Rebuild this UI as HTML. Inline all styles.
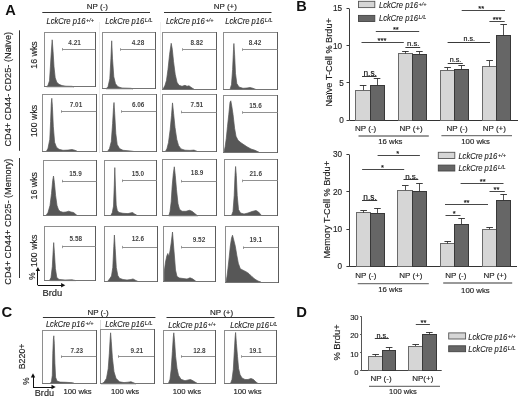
<!DOCTYPE html>
<html><head><meta charset="utf-8"><style>
html,body{margin:0;padding:0;background:#fff;width:520px;height:397px;overflow:hidden}
svg{display:block;font-family:"Liberation Sans", sans-serif;filter:blur(0.4px)}
</style></head><body>
<svg width="520" height="397" viewBox="0 0 520 397">
<rect width="520" height="397" fill="#fff"/>
<text x="5.2" y="15.4" font-size="14.6" text-anchor="start" fill="#111" font-weight="bold">A</text>
<text x="97.4" y="9.4" font-size="8" text-anchor="middle" fill="#1e1e1e" stroke="#1e1e1e" stroke-width="0.15" >NP (-)</text>
<line x1="42.3" y1="12.5" x2="150" y2="12.5" stroke="#333" stroke-width="1.1"/>
<text x="225.3" y="9.4" font-size="8" text-anchor="middle" fill="#1e1e1e" stroke="#1e1e1e" stroke-width="0.15" >NP (+)</text>
<line x1="164" y1="12.5" x2="271.5" y2="12.5" stroke="#333" stroke-width="1.1"/>
<text x="46.5" y="24.2" font-size="8.2" font-style="italic" fill="#1e1e1e" stroke="#1e1e1e" stroke-width="0.12"><tspan textLength="38.9" lengthAdjust="spacingAndGlyphs">LckCre p16</tspan><tspan font-size="5.6" dx="0.6" dy="-2.1">+/+</tspan></text>
<text x="105.3" y="24.2" font-size="8.2" font-style="italic" fill="#1e1e1e" stroke="#1e1e1e" stroke-width="0.12"><tspan textLength="38.9" lengthAdjust="spacingAndGlyphs">LckCre p16</tspan><tspan font-size="5.6" dx="0.6" dy="-2.1">L/L</tspan></text>
<text x="165.9" y="24.2" font-size="8.2" font-style="italic" fill="#1e1e1e" stroke="#1e1e1e" stroke-width="0.12"><tspan textLength="38.9" lengthAdjust="spacingAndGlyphs">LckCre p16</tspan><tspan font-size="5.6" dx="0.6" dy="-2.1">+/+</tspan></text>
<text x="225.3" y="24.2" font-size="8.2" font-style="italic" fill="#1e1e1e" stroke="#1e1e1e" stroke-width="0.12"><tspan textLength="38.9" lengthAdjust="spacingAndGlyphs">LckCre p16</tspan><tspan font-size="5.6" dx="0.6" dy="-2.1">L/L</tspan></text>
<line x1="99.5" y1="22" x2="99.5" y2="153" stroke="#e9e9e9" stroke-width="0.8"/>
<line x1="160.5" y1="22" x2="160.5" y2="150" stroke="#ebebeb" stroke-width="0.8"/>
<polygon points="46.5,86.8 48,85.3 49.5,80.8 50.4,66.8 51.3,51.8 52.2,39.8 53.1,51.8 54,66.8 55.2,77.8 56.8,82.3 59,84.3 62,85.6 66,86.2 72,86.3 74,86.8" fill="#575757" stroke="#575757" stroke-width="0.7" stroke-linejoin="round"/>
<path d="M44 32.5H96" stroke="#8e8e8e" stroke-width="1" fill="none"/>
<path d="M44.5 32.5V86.5" stroke="#8e8e8e" stroke-width="1" fill="none"/>
<path d="M44 86.5H96" stroke="#747474" stroke-width="1" fill="none"/>
<path d="M95.5 32V87" stroke="#5c5c5c" stroke-width="1" fill="none"/>
<text x="74.6" y="44.8" font-size="6.4" text-anchor="middle" fill="#444" font-weight="bold">4.21</text>
<line x1="62.2" y1="49.5" x2="95.6" y2="49.5" stroke="#858585" stroke-width="0.9"/>
<line x1="62.5" y1="48" x2="62.5" y2="50.6" stroke="#858585" stroke-width="0.8"/>
<polygon points="106,88.8 108,86.8 109.8,78.8 110.9,58.8 111.7,40.8 112.5,58.8 113.8,76.8 115.5,83.8 118,86.8 122,88 131,88.3 133,88.8" fill="#575757" stroke="#575757" stroke-width="0.7" stroke-linejoin="round"/>
<path d="M102 32.5H156" stroke="#8e8e8e" stroke-width="1" fill="none"/>
<path d="M102.5 32.5V88.5" stroke="#8e8e8e" stroke-width="1" fill="none"/>
<path d="M102 88.5H156" stroke="#747474" stroke-width="1" fill="none"/>
<path d="M155.5 32V89" stroke="#5c5c5c" stroke-width="1" fill="none"/>
<text x="138" y="44.9" font-size="6.4" text-anchor="middle" fill="#444" font-weight="bold">4.28</text>
<line x1="120.5" y1="49.5" x2="155.7" y2="49.5" stroke="#858585" stroke-width="0.9"/>
<line x1="120.5" y1="48.2" x2="120.5" y2="50.8" stroke="#858585" stroke-width="0.8"/>
<polygon points="163,89.3 165,85.3 166.5,80.3 168,69.3 169.6,54.3 171.2,43.3 172.3,49.3 173.5,61.3 175.2,74.3 177,82.3 179,85.3 182,86.3 185,85.3 187,86.3 189,85.8 191,87.3 194,89.3" fill="#575757" stroke="#575757" stroke-width="0.7" stroke-linejoin="round"/>
<path d="M162 32.5H217" stroke="#8e8e8e" stroke-width="1" fill="none"/>
<path d="M162.5 32.5V89.5" stroke="#8e8e8e" stroke-width="1" fill="none"/>
<path d="M162 89.5H217" stroke="#747474" stroke-width="1" fill="none"/>
<path d="M216.5 32V90" stroke="#5c5c5c" stroke-width="1" fill="none"/>
<text x="196.8" y="44.8" font-size="6.4" text-anchor="middle" fill="#444" font-weight="bold">8.82</text>
<line x1="182.7" y1="49.5" x2="216.5" y2="49.5" stroke="#858585" stroke-width="0.9"/>
<line x1="182.5" y1="48.2" x2="182.5" y2="50.8" stroke="#858585" stroke-width="0.8"/>
<polygon points="230,89.5 231.5,84.5 232.6,69.5 233.5,49.5 233.9,43.5 234.6,54.5 235.5,73.5 236.8,83.5 239,87 243,88.3 247,88 250,87.5 253,88.3 256,89.5" fill="#575757" stroke="#575757" stroke-width="0.7" stroke-linejoin="round"/>
<path d="M223 32.5H278" stroke="#8e8e8e" stroke-width="1" fill="none"/>
<path d="M223.5 32.5V89.5" stroke="#8e8e8e" stroke-width="1" fill="none"/>
<path d="M223 89.5H278" stroke="#747474" stroke-width="1" fill="none"/>
<path d="M277.5 32V90" stroke="#5c5c5c" stroke-width="1" fill="none"/>
<text x="255" y="44.9" font-size="6.4" text-anchor="middle" fill="#444" font-weight="bold">8.42</text>
<line x1="242.5" y1="49.5" x2="277.8" y2="49.5" stroke="#858585" stroke-width="0.9"/>
<line x1="242.5" y1="48.3" x2="242.5" y2="50.9" stroke="#858585" stroke-width="0.8"/>
<polygon points="46.5,151.3 48,148.3 49.8,139.3 50.6,121.3 51.3,103.3 51.8,98.3 52.4,106.3 53.3,126.3 54.6,142.3 56.5,147.3 59,149.3 63,150.3 68,150.1 72,149.5 75,150.3 77,151.3" fill="#575757" stroke="#575757" stroke-width="0.7" stroke-linejoin="round"/>
<path d="M42 94.5H97" stroke="#8e8e8e" stroke-width="1" fill="none"/>
<path d="M42.5 94.5V151.5" stroke="#8e8e8e" stroke-width="1" fill="none"/>
<path d="M42 151.5H97" stroke="#747474" stroke-width="1" fill="none"/>
<path d="M96.5 94V152" stroke="#5c5c5c" stroke-width="1" fill="none"/>
<text x="76" y="106.8" font-size="6.4" text-anchor="middle" fill="#444" font-weight="bold">7.01</text>
<line x1="61.2" y1="111.5" x2="96.3" y2="111.5" stroke="#858585" stroke-width="0.9"/>
<line x1="61.5" y1="110.2" x2="61.5" y2="112.8" stroke="#858585" stroke-width="0.8"/>
<polygon points="107.5,151.5 109.5,148.5 111.3,141.5 112.6,123.5 113.5,107.5 114,102.5 114.7,113.5 115.8,133.5 117.2,144.5 119.5,148.5 123,150.3 130,150.9 134,151.5" fill="#575757" stroke="#575757" stroke-width="0.7" stroke-linejoin="round"/>
<path d="M102 94.5H157" stroke="#8e8e8e" stroke-width="1" fill="none"/>
<path d="M102.5 94.5V151.5" stroke="#8e8e8e" stroke-width="1" fill="none"/>
<path d="M102 151.5H157" stroke="#747474" stroke-width="1" fill="none"/>
<path d="M156.5 94V152" stroke="#5c5c5c" stroke-width="1" fill="none"/>
<text x="138.2" y="106.8" font-size="6.4" text-anchor="middle" fill="#444" font-weight="bold">6.06</text>
<line x1="121.5" y1="111.5" x2="156.3" y2="111.5" stroke="#858585" stroke-width="0.9"/>
<line x1="121.5" y1="110.2" x2="121.5" y2="112.8" stroke="#858585" stroke-width="0.8"/>
<polygon points="165.5,151.4 167,148.4 168.5,142.4 170.2,129.4 171.5,115.4 172.5,102.9 173.6,113.4 175,127.4 176.8,139.4 178.5,145.4 181,148.9 185,150.2 190,150.4 194,150.1 197,151.4" fill="#575757" stroke="#575757" stroke-width="0.7" stroke-linejoin="round"/>
<path d="M162 94.5H217" stroke="#8e8e8e" stroke-width="1" fill="none"/>
<path d="M162.5 94.5V151.5" stroke="#8e8e8e" stroke-width="1" fill="none"/>
<path d="M162 151.5H217" stroke="#747474" stroke-width="1" fill="none"/>
<path d="M216.5 94V152" stroke="#5c5c5c" stroke-width="1" fill="none"/>
<text x="196.8" y="106.8" font-size="6.4" text-anchor="middle" fill="#444" font-weight="bold">7.51</text>
<line x1="181.3" y1="112.5" x2="216.5" y2="112.5" stroke="#858585" stroke-width="0.9"/>
<line x1="181.5" y1="110.7" x2="181.5" y2="113.3" stroke="#858585" stroke-width="0.8"/>
<polygon points="224,152.3 225.2,146.3 226.3,138.3 227.5,126.3 228.8,114.3 230,102.3 230.8,100.8 231.8,106.3 233,114.3 234.6,128.3 236,136.3 238,140.3 241,142.8 244,144.8 247,146.8 251,149 255,150.3 259,152.3" fill="#575757" stroke="#575757" stroke-width="0.7" stroke-linejoin="round"/>
<path d="M223 95.5H278" stroke="#8e8e8e" stroke-width="1" fill="none"/>
<path d="M223.5 95.5V152.5" stroke="#8e8e8e" stroke-width="1" fill="none"/>
<path d="M223 152.5H278" stroke="#747474" stroke-width="1" fill="none"/>
<path d="M277.5 95V153" stroke="#5c5c5c" stroke-width="1" fill="none"/>
<text x="255.5" y="107.6" font-size="6.4" text-anchor="middle" fill="#444" font-weight="bold">15.6</text>
<line x1="242.6" y1="112.5" x2="277.8" y2="112.5" stroke="#858585" stroke-width="0.9"/>
<line x1="242.5" y1="111.2" x2="242.5" y2="113.8" stroke="#858585" stroke-width="0.8"/>
<polygon points="46,215.5 48,212.5 50,205.5 51.5,193.5 52.7,180.5 53.5,176 54.4,182.5 55.6,195.5 57,205.5 58.6,210 60.5,211.5 63,212.3 66,212 68.8,211.2 71,212 73.5,212.5 75.5,214 77,215.5" fill="#575757" stroke="#575757" stroke-width="0.7" stroke-linejoin="round"/>
<path d="M43 160.5H97" stroke="#8e8e8e" stroke-width="1" fill="none"/>
<path d="M43.5 160.5V215.5" stroke="#8e8e8e" stroke-width="1" fill="none"/>
<path d="M43 215.5H97" stroke="#747474" stroke-width="1" fill="none"/>
<path d="M96.5 160V216" stroke="#5c5c5c" stroke-width="1" fill="none"/>
<text x="75.5" y="175.5" font-size="6.4" text-anchor="middle" fill="#444" font-weight="bold">15.9</text>
<line x1="62" y1="181.5" x2="96.6" y2="181.5" stroke="#858585" stroke-width="0.9"/>
<line x1="62.5" y1="179.8" x2="62.5" y2="182.4" stroke="#858585" stroke-width="0.8"/>
<polygon points="111,215.1 112.3,212.6 113.5,206.1 114.3,185.1 114.8,167.6 115.4,185.1 116.2,205.1 117.3,210.6 119,212.5 123,213.3 128,213.6 132.5,212.5 134.5,213.9 136.5,215.1" fill="#575757" stroke="#575757" stroke-width="0.7" stroke-linejoin="round"/>
<path d="M104 160.5H157" stroke="#8e8e8e" stroke-width="1" fill="none"/>
<path d="M104.5 160.5V215.5" stroke="#8e8e8e" stroke-width="1" fill="none"/>
<path d="M104 215.5H157" stroke="#747474" stroke-width="1" fill="none"/>
<path d="M156.5 160V216" stroke="#5c5c5c" stroke-width="1" fill="none"/>
<text x="137.9" y="175.7" font-size="6.4" text-anchor="middle" fill="#444" font-weight="bold">15.0</text>
<line x1="122.3" y1="180.5" x2="156.9" y2="180.5" stroke="#858585" stroke-width="0.9"/>
<line x1="122.5" y1="179.5" x2="122.5" y2="182.1" stroke="#858585" stroke-width="0.8"/>
<polygon points="168.8,215.8 170,211.8 171.2,201.8 172.2,185.8 173.3,173.8 174.3,166.8 175.3,175.8 176.5,189.8 178,203.8 179.5,209.3 182,211.3 186,211.3 189.5,210.3 192,211.3 194.5,213.3 197.5,215.8" fill="#575757" stroke="#575757" stroke-width="0.7" stroke-linejoin="round"/>
<path d="M162 159.5H217" stroke="#8e8e8e" stroke-width="1" fill="none"/>
<path d="M162.5 159.5V215.5" stroke="#8e8e8e" stroke-width="1" fill="none"/>
<path d="M162 215.5H217" stroke="#747474" stroke-width="1" fill="none"/>
<path d="M216.5 159V216" stroke="#5c5c5c" stroke-width="1" fill="none"/>
<text x="197.1" y="175.1" font-size="6.4" text-anchor="middle" fill="#444" font-weight="bold">18.9</text>
<line x1="181.4" y1="181.5" x2="216.5" y2="181.5" stroke="#858585" stroke-width="0.9"/>
<line x1="181.5" y1="179.9" x2="181.5" y2="182.5" stroke="#858585" stroke-width="0.8"/>
<polygon points="231.5,215.5 233,211.5 234.2,195.5 235,175.5 235.6,166.5 236.3,175.5 237.2,195.5 238.5,209.5 240.5,213 244,214 248,213 252,211.5 256,210.5 258.5,212 261.5,215.5" fill="#575757" stroke="#575757" stroke-width="0.7" stroke-linejoin="round"/>
<path d="M224 159.5H278" stroke="#8e8e8e" stroke-width="1" fill="none"/>
<path d="M224.5 159.5V215.5" stroke="#8e8e8e" stroke-width="1" fill="none"/>
<path d="M224 215.5H278" stroke="#747474" stroke-width="1" fill="none"/>
<path d="M277.5 159V216" stroke="#5c5c5c" stroke-width="1" fill="none"/>
<text x="255.8" y="175.5" font-size="6.4" text-anchor="middle" fill="#444" font-weight="bold">21.6</text>
<line x1="242.7" y1="180.5" x2="277.9" y2="180.5" stroke="#858585" stroke-width="0.9"/>
<line x1="242.5" y1="179.6" x2="242.5" y2="182.2" stroke="#858585" stroke-width="0.8"/>
<polygon points="49.5,280.6 51,277.6 52.3,266.6 53.2,250.6 53.7,242.6 54.4,252.6 55.4,268.6 56.8,277.6 59,279.4 65,280 72,279.8 76,280.6" fill="#575757" stroke="#575757" stroke-width="0.7" stroke-linejoin="round"/>
<path d="M44 226.5H96" stroke="#8e8e8e" stroke-width="1" fill="none"/>
<path d="M44.5 226.5V280.5" stroke="#8e8e8e" stroke-width="1" fill="none"/>
<path d="M44 280.5H96" stroke="#747474" stroke-width="1" fill="none"/>
<path d="M95.5 226V281" stroke="#5c5c5c" stroke-width="1" fill="none"/>
<text x="75.8" y="241" font-size="6.4" text-anchor="middle" fill="#444" font-weight="bold">5.58</text>
<line x1="62.3" y1="246.5" x2="95.8" y2="246.5" stroke="#858585" stroke-width="0.9"/>
<line x1="62.5" y1="245.6" x2="62.5" y2="248.2" stroke="#858585" stroke-width="0.8"/>
<polygon points="107.5,281.5 109.5,279 111.5,276 112.8,267.5 113.8,246.5 114.4,235 115.2,248.5 116.3,267.5 117.8,275.5 119.5,278.3 123,279.5 127,280 131,279.5 133,278.9 135.5,280.3 138,281.5" fill="#575757" stroke="#575757" stroke-width="0.7" stroke-linejoin="round"/>
<path d="M104 226.5H158" stroke="#8e8e8e" stroke-width="1" fill="none"/>
<path d="M104.5 226.5V281.5" stroke="#8e8e8e" stroke-width="1" fill="none"/>
<path d="M104 281.5H158" stroke="#747474" stroke-width="1" fill="none"/>
<path d="M157.5 226V282" stroke="#5c5c5c" stroke-width="1" fill="none"/>
<text x="137.9" y="241" font-size="6.4" text-anchor="middle" fill="#444" font-weight="bold">12.6</text>
<line x1="122.7" y1="247.5" x2="157" y2="247.5" stroke="#858585" stroke-width="0.9"/>
<line x1="122.5" y1="245.9" x2="122.5" y2="248.5" stroke="#858585" stroke-width="0.8"/>
<polygon points="164.2,281 164.2,272 165.5,262 166.8,256 167.8,253.5 168.9,256.5 170,251 171.2,243 172.5,232 173.5,245 174.5,257 175.5,270 177,276.5 179.5,278 183,278.5 187,279 190,277.8 192.5,278.8 195.5,281" fill="#575757" stroke="#575757" stroke-width="0.7" stroke-linejoin="round"/>
<path d="M163 226.5H216" stroke="#8e8e8e" stroke-width="1" fill="none"/>
<path d="M163.5 226.5V281.5" stroke="#8e8e8e" stroke-width="1" fill="none"/>
<path d="M163 281.5H216" stroke="#747474" stroke-width="1" fill="none"/>
<path d="M215.5 226V282" stroke="#5c5c5c" stroke-width="1" fill="none"/>
<text x="199" y="241.5" font-size="6.4" text-anchor="middle" fill="#444" font-weight="bold">9.52</text>
<line x1="181.6" y1="247.5" x2="215.3" y2="247.5" stroke="#858585" stroke-width="0.9"/>
<line x1="181.5" y1="245.9" x2="181.5" y2="248.5" stroke="#858585" stroke-width="0.8"/>
<polygon points="226,282.2 227,276.2 228,268.2 229.2,257.2 230.3,246.2 231.5,238.2 232.5,235.2 233.8,240.2 235.3,246.2 236.8,255.2 238.3,263.2 240.3,268.7 243,270.2 246,271.7 249,273.7 252,276.7 255,279.2 258,281 261,282.2" fill="#575757" stroke="#575757" stroke-width="0.7" stroke-linejoin="round"/>
<path d="M225 226.5H279" stroke="#8e8e8e" stroke-width="1" fill="none"/>
<path d="M225.5 226.5V282.5" stroke="#8e8e8e" stroke-width="1" fill="none"/>
<path d="M225 282.5H279" stroke="#747474" stroke-width="1" fill="none"/>
<path d="M278.5 226V283" stroke="#5c5c5c" stroke-width="1" fill="none"/>
<text x="255.8" y="241.8" font-size="6.4" text-anchor="middle" fill="#444" font-weight="bold">19.1</text>
<line x1="243.2" y1="247.5" x2="278.3" y2="247.5" stroke="#858585" stroke-width="0.9"/>
<line x1="243.5" y1="246.4" x2="243.5" y2="249" stroke="#858585" stroke-width="0.8"/>
<polygon points="50.5,383.3 51.5,381.3 52.3,375.3 52.8,353.3 53.4,339.3 53.8,335.8 54.3,343.3 54.9,363.3 55.6,377.3 57,381.1 60,382.1 66,382.3 72,382.7 74,383.3" fill="#575757" stroke="#575757" stroke-width="0.7" stroke-linejoin="round"/>
<path d="M42 330.5H97" stroke="#8e8e8e" stroke-width="1" fill="none"/>
<path d="M42.5 330.5V383.5" stroke="#8e8e8e" stroke-width="1" fill="none"/>
<path d="M42 383.5H97" stroke="#747474" stroke-width="1" fill="none"/>
<path d="M96.5 330V384" stroke="#5c5c5c" stroke-width="1" fill="none"/>
<text x="76.8" y="353" font-size="6.4" text-anchor="middle" fill="#444" font-weight="bold">7.23</text>
<line x1="61.1" y1="356.5" x2="96.3" y2="356.5" stroke="#858585" stroke-width="0.9"/>
<line x1="61.5" y1="355.4" x2="61.5" y2="358" stroke="#858585" stroke-width="0.8"/>
<polygon points="101.5,383.8 104,382.3 106.5,378.3 108.2,368.8 109.3,353.8 110.1,339.8 110.6,332.8 111.3,341.8 112.4,357.8 114,371.8 116,378.3 119.5,381.8 124,382.6 128,382.2 131,381.7 133,382.6 136,383.8" fill="#575757" stroke="#575757" stroke-width="0.7" stroke-linejoin="round"/>
<path d="M100 329.5H155" stroke="#8e8e8e" stroke-width="1" fill="none"/>
<path d="M100.5 329.5V383.5" stroke="#8e8e8e" stroke-width="1" fill="none"/>
<path d="M100 383.5H155" stroke="#747474" stroke-width="1" fill="none"/>
<path d="M154.5 329V384" stroke="#5c5c5c" stroke-width="1" fill="none"/>
<text x="136.8" y="353.2" font-size="6.4" text-anchor="middle" fill="#444" font-weight="bold">9.21</text>
<line x1="118.4" y1="356.5" x2="154" y2="356.5" stroke="#858585" stroke-width="0.9"/>
<line x1="118.5" y1="355.2" x2="118.5" y2="357.8" stroke="#858585" stroke-width="0.8"/>
<polygon points="168.5,383.3 170,379.3 171.2,369.3 172.4,351.3 173.3,337.3 173.8,332.8 174.6,341.3 175.6,356.3 177,368.3 178.5,375.3 181,379.3 185,380.7 188,380 190.5,379.5 193,380.8 197,383.3" fill="#575757" stroke="#575757" stroke-width="0.7" stroke-linejoin="round"/>
<path d="M163 330.5H216" stroke="#8e8e8e" stroke-width="1" fill="none"/>
<path d="M163.5 330.5V383.5" stroke="#8e8e8e" stroke-width="1" fill="none"/>
<path d="M163 383.5H216" stroke="#747474" stroke-width="1" fill="none"/>
<path d="M215.5 330V384" stroke="#5c5c5c" stroke-width="1" fill="none"/>
<text x="199.4" y="353.2" font-size="6.4" text-anchor="middle" fill="#444" font-weight="bold">12.8</text>
<line x1="181.1" y1="356.5" x2="215" y2="356.5" stroke="#858585" stroke-width="0.9"/>
<line x1="181.5" y1="355.2" x2="181.5" y2="357.8" stroke="#858585" stroke-width="0.8"/>
<polygon points="230.5,383.5 232,379.5 233.3,369.5 234.3,351.5 235.1,337.5 235.6,332.5 236.4,343.5 237.5,356.5 238.6,368.5 240,374.5 242,378 245,379.5 248,379.5 251,378.5 253.5,379.5 256,382 258,383.5" fill="#575757" stroke="#575757" stroke-width="0.7" stroke-linejoin="round"/>
<path d="M224 330.5H277" stroke="#8e8e8e" stroke-width="1" fill="none"/>
<path d="M224.5 330.5V383.5" stroke="#8e8e8e" stroke-width="1" fill="none"/>
<path d="M224 383.5H277" stroke="#747474" stroke-width="1" fill="none"/>
<path d="M276.5 330V384" stroke="#5c5c5c" stroke-width="1" fill="none"/>
<text x="255.4" y="353.2" font-size="6.4" text-anchor="middle" fill="#444" font-weight="bold">19.1</text>
<line x1="241.8" y1="356.5" x2="276.3" y2="356.5" stroke="#858585" stroke-width="0.9"/>
<line x1="241.5" y1="355.2" x2="241.5" y2="357.8" stroke="#858585" stroke-width="0.8"/>
<text x="36.7" y="55" font-size="8.8" text-anchor="middle" fill="#1e1e1e" stroke="#1e1e1e" stroke-width="0.15"  transform="rotate(-90 36.7 55)">16 wks</text>
<text x="36.7" y="120.9" font-size="8.8" text-anchor="middle" fill="#1e1e1e" stroke="#1e1e1e" stroke-width="0.15"  transform="rotate(-90 36.7 120.9)">100 wks</text>
<text x="36.7" y="185.7" font-size="8.8" text-anchor="middle" fill="#1e1e1e" stroke="#1e1e1e" stroke-width="0.15"  transform="rotate(-90 36.7 185.7)">16 wks</text>
<text x="36.7" y="250.8" font-size="8.8" text-anchor="middle" fill="#1e1e1e" stroke="#1e1e1e" stroke-width="0.15"  transform="rotate(-90 36.7 250.8)">100 wks</text>
<text x="35" y="276.2" font-size="8.2" text-anchor="middle" fill="#1e1e1e" stroke="#1e1e1e" stroke-width="0.15"  transform="rotate(-90 35 276.2)">%</text>
<text x="10.6" y="89.25" font-size="9.2" text-anchor="middle" fill="#1e1e1e" stroke="#1e1e1e" stroke-width="0.15"  transform="rotate(-90 10.6 89.25)">CD4+ CD44- CD25- (Na&#239;ve)</text>
<text x="10.6" y="221.7" font-size="9.2" text-anchor="middle" fill="#1e1e1e" stroke="#1e1e1e" stroke-width="0.15"  transform="rotate(-90 10.6 221.7)">CD4+ CD44+ CD25- (Memory)</text>
<line x1="19.5" y1="30.3" x2="19.5" y2="150.8" stroke="#333" stroke-width="1"/>
<line x1="19.5" y1="158" x2="19.5" y2="278" stroke="#333" stroke-width="1"/>
<line x1="37.5" y1="285.2" x2="37.5" y2="270.4" stroke="#111" stroke-width="1"/>
<line x1="37.9" y1="285.5" x2="61.8" y2="285.5" stroke="#111" stroke-width="1"/>
<polygon points="35.7,271.1 40.1,271.1 37.9,266.9" fill="#111"/>
<polygon points="61.1,283 61.1,287.4 65.3,285.2" fill="#111"/>
<text x="42.4" y="295.9" font-size="9.4" text-anchor="start" fill="#1e1e1e" stroke="#1e1e1e" stroke-width="0.15" >Brdu</text>
<text x="1.6" y="316.8" font-size="14.8" text-anchor="start" fill="#111" font-weight="bold">C</text>
<text x="98" y="314.8" font-size="8" text-anchor="middle" fill="#1e1e1e" stroke="#1e1e1e" stroke-width="0.15" >NP (-)</text>
<line x1="42.9" y1="317.5" x2="155.4" y2="317.5" stroke="#333" stroke-width="1.1"/>
<text x="221.6" y="315" font-size="8" text-anchor="middle" fill="#1e1e1e" stroke="#1e1e1e" stroke-width="0.15" >NP (+)</text>
<line x1="166.5" y1="317.5" x2="274.5" y2="317.5" stroke="#333" stroke-width="1.1"/>
<text x="45.9" y="327.2" font-size="8.2" font-style="italic" fill="#1e1e1e" stroke="#1e1e1e" stroke-width="0.12"><tspan textLength="38.9" lengthAdjust="spacingAndGlyphs">LckCre p16</tspan><tspan font-size="5.6" dx="0.6" dy="-2.1">+/+</tspan></text>
<text x="105.3" y="327.2" font-size="8.2" font-style="italic" fill="#1e1e1e" stroke="#1e1e1e" stroke-width="0.12"><tspan textLength="38.9" lengthAdjust="spacingAndGlyphs">LckCre p16</tspan><tspan font-size="5.6" dx="0.6" dy="-2.1">L/L</tspan></text>
<text x="168.3" y="327.6" font-size="8.2" font-style="italic" fill="#1e1e1e" stroke="#1e1e1e" stroke-width="0.12"><tspan textLength="38.9" lengthAdjust="spacingAndGlyphs">LckCre p16</tspan><tspan font-size="5.6" dx="0.6" dy="-2.1">+/+</tspan></text>
<text x="230.2" y="327.6" font-size="8.2" font-style="italic" fill="#1e1e1e" stroke="#1e1e1e" stroke-width="0.12"><tspan textLength="38.9" lengthAdjust="spacingAndGlyphs">LckCre p16</tspan><tspan font-size="5.6" dx="0.6" dy="-2.1">L/L</tspan></text>
<line x1="100.5" y1="320" x2="100.5" y2="329" stroke="#d0d0d0" stroke-width="0.8"/>
<text x="25.3" y="356.4" font-size="8.8" text-anchor="middle" fill="#1e1e1e" stroke="#1e1e1e" stroke-width="0.15"  transform="rotate(-90 25.3 356.4)">B220+</text>
<text x="29.2" y="381.2" font-size="8.2" text-anchor="middle" fill="#1e1e1e" stroke="#1e1e1e" stroke-width="0.15"  transform="rotate(-90 29.2 381.2)">%</text>
<line x1="33.5" y1="387" x2="33.5" y2="376.7" stroke="#111" stroke-width="1"/>
<line x1="33" y1="387.5" x2="52.2" y2="387.5" stroke="#111" stroke-width="1"/>
<polygon points="30.8,377.4 35.2,377.4 33,373.2" fill="#111"/>
<polygon points="51.5,384.8 51.5,389.2 55.7,387" fill="#111"/>
<text x="34.8" y="396.2" font-size="9.1" text-anchor="start" fill="#1e1e1e" stroke="#1e1e1e" stroke-width="0.15" >Brdu</text>
<text x="63.5" y="393.9" font-size="7.7" text-anchor="start" fill="#1e1e1e" stroke="#1e1e1e" stroke-width="0.15" >100 wks</text>
<text x="111" y="393.9" font-size="7.7" text-anchor="start" fill="#1e1e1e" stroke="#1e1e1e" stroke-width="0.15" >100 wks</text>
<text x="172.8" y="393.9" font-size="7.7" text-anchor="start" fill="#1e1e1e" stroke="#1e1e1e" stroke-width="0.15" >100 wks</text>
<text x="233.4" y="393.9" font-size="7.7" text-anchor="start" fill="#1e1e1e" stroke="#1e1e1e" stroke-width="0.15" >100 wks</text>
<text x="296.2" y="10.9" font-size="14.6" text-anchor="start" fill="#111" font-weight="bold">B</text>
<line x1="349.5" y1="8.7" x2="349.5" y2="120.1" stroke="#3a3a3a" stroke-width="1"/>
<line x1="349.3" y1="120.5" x2="518" y2="120.5" stroke="#333" stroke-width="1"/>
<line x1="346.5" y1="120.5" x2="349.3" y2="120.5" stroke="#3a3a3a" stroke-width="1"/>
<text x="343.8" y="122.8" font-size="8.2" text-anchor="end" fill="#1e1e1e" stroke="#1e1e1e" stroke-width="0.15" >0</text>
<line x1="346.5" y1="82.5" x2="349.3" y2="82.5" stroke="#3a3a3a" stroke-width="1"/>
<text x="343.8" y="85.67" font-size="8.2" text-anchor="end" fill="#1e1e1e" stroke="#1e1e1e" stroke-width="0.15" >5</text>
<line x1="346.5" y1="45.5" x2="349.3" y2="45.5" stroke="#3a3a3a" stroke-width="1"/>
<text x="342" y="48.53" font-size="8.2" text-anchor="end" fill="#1e1e1e" stroke="#1e1e1e" stroke-width="0.15" >10</text>
<line x1="346.5" y1="8.5" x2="349.3" y2="8.5" stroke="#3a3a3a" stroke-width="1"/>
<text x="342" y="11.4" font-size="8.2" text-anchor="end" fill="#1e1e1e" stroke="#1e1e1e" stroke-width="0.15" >15</text>
<text x="332.4" y="62.3" font-size="9.2" text-anchor="middle" fill="#1e1e1e" stroke="#1e1e1e" stroke-width="0.15"  transform="rotate(-90 332.4 62.3)">Na&#239;ve T-Cell % Brdu+</text>
<rect x="355.5" y="90.5" width="15" height="30" fill="#d6d6d6" stroke="#6a6a6a" stroke-width="1"/>
<rect x="370.5" y="85.5" width="14" height="35" fill="#666666" stroke="#383838" stroke-width="1"/>
<line x1="363.5" y1="90.1" x2="363.5" y2="85.2" stroke="#333" stroke-width="0.85"/>
<line x1="359.8" y1="85.5" x2="366.4" y2="85.5" stroke="#2a2a2a" stroke-width="0.9"/>
<line x1="377.5" y1="85.4" x2="377.5" y2="78.3" stroke="#333" stroke-width="0.85"/>
<line x1="373.75" y1="78.5" x2="380.35" y2="78.5" stroke="#2a2a2a" stroke-width="0.9"/>
<rect x="398.5" y="53.5" width="14" height="67" fill="#d6d6d6" stroke="#6a6a6a" stroke-width="1"/>
<rect x="412.5" y="54.5" width="14" height="66" fill="#666666" stroke="#383838" stroke-width="1"/>
<line x1="405.5" y1="53.6" x2="405.5" y2="51.1" stroke="#333" stroke-width="0.85"/>
<line x1="402.1" y1="51.5" x2="408.7" y2="51.5" stroke="#2a2a2a" stroke-width="0.9"/>
<line x1="419.5" y1="54.5" x2="419.5" y2="51.6" stroke="#333" stroke-width="0.85"/>
<line x1="416.1" y1="51.5" x2="422.7" y2="51.5" stroke="#2a2a2a" stroke-width="0.9"/>
<rect x="440.5" y="70.5" width="14" height="50" fill="#d6d6d6" stroke="#6a6a6a" stroke-width="1"/>
<rect x="454.5" y="69.5" width="14" height="51" fill="#666666" stroke="#383838" stroke-width="1"/>
<line x1="447.5" y1="70.1" x2="447.5" y2="67.8" stroke="#333" stroke-width="0.85"/>
<line x1="444.3" y1="67.5" x2="450.9" y2="67.5" stroke="#2a2a2a" stroke-width="0.9"/>
<line x1="461.5" y1="69.7" x2="461.5" y2="65.5" stroke="#333" stroke-width="0.85"/>
<line x1="458.35" y1="65.5" x2="464.95" y2="65.5" stroke="#2a2a2a" stroke-width="0.9"/>
<rect x="482.5" y="66.5" width="14" height="54" fill="#d6d6d6" stroke="#6a6a6a" stroke-width="1"/>
<rect x="496.5" y="35.5" width="14" height="85" fill="#666666" stroke="#383838" stroke-width="1"/>
<line x1="489.5" y1="66.5" x2="489.5" y2="60.9" stroke="#333" stroke-width="0.85"/>
<line x1="486.35" y1="60.5" x2="492.95" y2="60.5" stroke="#2a2a2a" stroke-width="0.9"/>
<line x1="503.5" y1="35.7" x2="503.5" y2="24.6" stroke="#333" stroke-width="0.85"/>
<line x1="500.35" y1="24.5" x2="506.95" y2="24.5" stroke="#2a2a2a" stroke-width="0.9"/>
<line x1="375.8" y1="31.5" x2="419.2" y2="31.5" stroke="#333" stroke-width="0.9"/>
<text x="395.8" y="31.5" font-size="7.5" text-anchor="middle" fill="#111" stroke="#111" stroke-width="0.15" >**</text>
<line x1="361.5" y1="42.5" x2="403.8" y2="42.5" stroke="#333" stroke-width="0.9"/>
<text x="382" y="42.5" font-size="7.5" text-anchor="middle" fill="#111" stroke="#111" stroke-width="0.15" >***</text>
<line x1="362" y1="76.5" x2="376.6" y2="76.5" stroke="#222" stroke-width="0.9"/>
<text x="370.2" y="75.6" font-size="8.4" text-anchor="middle" fill="#111" stroke="#111" stroke-width="0.15" >n.s.</text>
<line x1="405.4" y1="47.5" x2="420.2" y2="47.5" stroke="#222" stroke-width="0.9"/>
<text x="413.2" y="46.4" font-size="7.6" text-anchor="middle" fill="#111" stroke="#111" stroke-width="0.15" >n.s.</text>
<line x1="447.7" y1="63.5" x2="462.8" y2="63.5" stroke="#222" stroke-width="0.9"/>
<text x="455.5" y="62.1" font-size="7.2" text-anchor="middle" fill="#111" stroke="#111" stroke-width="0.15" >n.s.</text>
<line x1="447.6" y1="42.5" x2="490" y2="42.5" stroke="#222" stroke-width="0.9"/>
<text x="469.2" y="41.3" font-size="7.1" text-anchor="middle" fill="#111" stroke="#111" stroke-width="0.15" >n.s.</text>
<line x1="461.7" y1="10.5" x2="505" y2="10.5" stroke="#333" stroke-width="0.9"/>
<text x="481.2" y="10.7" font-size="7.5" text-anchor="middle" fill="#111" stroke="#111" stroke-width="0.15" >**</text>
<line x1="489.4" y1="21.5" x2="504.7" y2="21.5" stroke="#333" stroke-width="0.9"/>
<text x="497.1" y="22.1" font-size="7.5" text-anchor="middle" fill="#111" stroke="#111" stroke-width="0.15" >***</text>
<text x="365.7" y="130.5" font-size="8" text-anchor="middle" fill="#1e1e1e" stroke="#1e1e1e" stroke-width="0.15" >NP (-)</text>
<text x="411.2" y="130.5" font-size="8" text-anchor="middle" fill="#1e1e1e" stroke="#1e1e1e" stroke-width="0.15" >NP (+)</text>
<text x="457.1" y="130.5" font-size="8" text-anchor="middle" fill="#1e1e1e" stroke="#1e1e1e" stroke-width="0.15" >NP (-)</text>
<text x="494.3" y="130.5" font-size="8" text-anchor="middle" fill="#1e1e1e" stroke="#1e1e1e" stroke-width="0.15" >NP (+)</text>
<line x1="358.5" y1="136" x2="428.8" y2="136" stroke="#777" stroke-width="1.3"/>
<line x1="441.4" y1="135.7" x2="512" y2="135.7" stroke="#777" stroke-width="1.3"/>
<text x="390.3" y="144.2" font-size="7.8" text-anchor="middle" fill="#1e1e1e" stroke="#1e1e1e" stroke-width="0.15" >16 wks</text>
<text x="475.6" y="144.2" font-size="7.8" text-anchor="middle" fill="#1e1e1e" stroke="#1e1e1e" stroke-width="0.15" >100 wks</text>
<rect x="358.5" y="1.3" width="16.3" height="6.3" fill="#d6d6d6" stroke="#555" stroke-width="0.9"/>
<rect x="358.5" y="15.4" width="16.3" height="6.1" fill="#666666" stroke="#444" stroke-width="0.9"/>
<text x="379" y="7.9" font-size="8.2" font-style="italic" fill="#1e1e1e" stroke="#1e1e1e" stroke-width="0.12"><tspan textLength="38.9" lengthAdjust="spacingAndGlyphs">LckCre p16</tspan><tspan font-size="5.6" dx="0.6" dy="-2.1">+/+</tspan></text>
<text x="379" y="21" font-size="8.2" font-style="italic" fill="#1e1e1e" stroke="#1e1e1e" stroke-width="0.12"><tspan textLength="38.9" lengthAdjust="spacingAndGlyphs">LckCre p16</tspan><tspan font-size="5.6" dx="0.6" dy="-2.1">L/L</tspan></text>
<line x1="349.5" y1="154.6" x2="349.5" y2="266.6" stroke="#3a3a3a" stroke-width="1"/>
<line x1="349.2" y1="266.5" x2="517" y2="266.5" stroke="#333" stroke-width="1"/>
<line x1="346.4" y1="266.5" x2="349.2" y2="266.5" stroke="#3a3a3a" stroke-width="1"/>
<text x="342" y="269.3" font-size="8.2" text-anchor="end" fill="#1e1e1e" stroke="#1e1e1e" stroke-width="0.15" >0</text>
<line x1="346.4" y1="229.5" x2="349.2" y2="229.5" stroke="#3a3a3a" stroke-width="1"/>
<text x="342" y="231.97" font-size="8.2" text-anchor="end" fill="#1e1e1e" stroke="#1e1e1e" stroke-width="0.15" >10</text>
<line x1="346.4" y1="191.5" x2="349.2" y2="191.5" stroke="#3a3a3a" stroke-width="1"/>
<text x="342" y="194.63" font-size="8.2" text-anchor="end" fill="#1e1e1e" stroke="#1e1e1e" stroke-width="0.15" >20</text>
<line x1="346.4" y1="154.5" x2="349.2" y2="154.5" stroke="#3a3a3a" stroke-width="1"/>
<text x="342" y="157.3" font-size="8.2" text-anchor="end" fill="#1e1e1e" stroke="#1e1e1e" stroke-width="0.15" >30</text>
<text x="330.2" y="209.8" font-size="9.2" text-anchor="middle" fill="#1e1e1e" stroke="#1e1e1e" stroke-width="0.15"  transform="rotate(-90 330.2 209.8)">Memory T-Cell % Brdu+</text>
<rect x="356.5" y="212.5" width="14" height="54" fill="#d6d6d6" stroke="#6a6a6a" stroke-width="1"/>
<rect x="370.5" y="213.5" width="14" height="53" fill="#666666" stroke="#383838" stroke-width="1"/>
<line x1="363.5" y1="212.8" x2="363.5" y2="210.7" stroke="#333" stroke-width="0.85"/>
<line x1="360.35" y1="210.5" x2="366.95" y2="210.5" stroke="#2a2a2a" stroke-width="0.9"/>
<line x1="377.5" y1="213.3" x2="377.5" y2="208.4" stroke="#333" stroke-width="0.85"/>
<line x1="374.15" y1="208.5" x2="380.75" y2="208.5" stroke="#2a2a2a" stroke-width="0.9"/>
<rect x="397.5" y="190.5" width="15" height="76" fill="#d6d6d6" stroke="#6a6a6a" stroke-width="1"/>
<rect x="412.5" y="191.5" width="14" height="75" fill="#666666" stroke="#383838" stroke-width="1"/>
<line x1="405.5" y1="190.2" x2="405.5" y2="185.9" stroke="#333" stroke-width="0.85"/>
<line x1="402" y1="185.5" x2="408.6" y2="185.5" stroke="#2a2a2a" stroke-width="0.9"/>
<line x1="419.5" y1="191.5" x2="419.5" y2="183.5" stroke="#333" stroke-width="0.85"/>
<line x1="416.15" y1="183.5" x2="422.75" y2="183.5" stroke="#2a2a2a" stroke-width="0.9"/>
<rect x="440.5" y="243.5" width="14" height="23" fill="#d6d6d6" stroke="#6a6a6a" stroke-width="1"/>
<rect x="454.5" y="224.5" width="14" height="42" fill="#666666" stroke="#383838" stroke-width="1"/>
<line x1="447.5" y1="243.7" x2="447.5" y2="241.5" stroke="#333" stroke-width="0.85"/>
<line x1="444.45" y1="241.5" x2="451.05" y2="241.5" stroke="#2a2a2a" stroke-width="0.9"/>
<line x1="461.5" y1="224.2" x2="461.5" y2="218.5" stroke="#333" stroke-width="0.85"/>
<line x1="458.3" y1="218.5" x2="464.9" y2="218.5" stroke="#2a2a2a" stroke-width="0.9"/>
<rect x="482.5" y="229.5" width="14" height="37" fill="#d6d6d6" stroke="#6a6a6a" stroke-width="1"/>
<rect x="496.5" y="200.5" width="14" height="66" fill="#666666" stroke="#383838" stroke-width="1"/>
<line x1="489.5" y1="229.3" x2="489.5" y2="227.4" stroke="#333" stroke-width="0.85"/>
<line x1="486.35" y1="227.5" x2="492.95" y2="227.5" stroke="#2a2a2a" stroke-width="0.9"/>
<line x1="503.5" y1="200.3" x2="503.5" y2="194.2" stroke="#333" stroke-width="0.85"/>
<line x1="500.35" y1="194.5" x2="506.95" y2="194.5" stroke="#2a2a2a" stroke-width="0.9"/>
<line x1="377.6" y1="155.5" x2="419.9" y2="155.5" stroke="#333" stroke-width="0.9"/>
<text x="397.7" y="155.9" font-size="7.5" text-anchor="middle" fill="#111" stroke="#111" stroke-width="0.15" >*</text>
<line x1="362.1" y1="169.5" x2="404.2" y2="169.5" stroke="#333" stroke-width="0.9"/>
<text x="382.4" y="169.7" font-size="7.5" text-anchor="middle" fill="#111" stroke="#111" stroke-width="0.15" >*</text>
<line x1="362" y1="200.5" x2="377.2" y2="200.5" stroke="#222" stroke-width="0.9"/>
<text x="370" y="199.8" font-size="8.3" text-anchor="middle" fill="#111" stroke="#111" stroke-width="0.15" >n.s.</text>
<line x1="403.5" y1="179.5" x2="418.3" y2="179.5" stroke="#222" stroke-width="0.9"/>
<text x="411.6" y="178.8" font-size="8" text-anchor="middle" fill="#111" stroke="#111" stroke-width="0.15" >n.s.</text>
<line x1="460.6" y1="183.5" x2="503.5" y2="183.5" stroke="#333" stroke-width="0.9"/>
<text x="482.7" y="183.6" font-size="7.5" text-anchor="middle" fill="#111" stroke="#111" stroke-width="0.15" >**</text>
<line x1="489.5" y1="191.5" x2="504.8" y2="191.5" stroke="#333" stroke-width="0.9"/>
<text x="496.5" y="191.9" font-size="7.5" text-anchor="middle" fill="#111" stroke="#111" stroke-width="0.15" >**</text>
<line x1="445" y1="204.5" x2="488" y2="204.5" stroke="#333" stroke-width="0.9"/>
<text x="466.6" y="205" font-size="7.5" text-anchor="middle" fill="#111" stroke="#111" stroke-width="0.15" >**</text>
<line x1="445.5" y1="215.5" x2="460.5" y2="215.5" stroke="#333" stroke-width="0.9"/>
<text x="454.2" y="215.9" font-size="7.5" text-anchor="middle" fill="#111" stroke="#111" stroke-width="0.15" >*</text>
<text x="365.8" y="277.8" font-size="8" text-anchor="middle" fill="#1e1e1e" stroke="#1e1e1e" stroke-width="0.15" >NP (-)</text>
<text x="410.9" y="277.8" font-size="8" text-anchor="middle" fill="#1e1e1e" stroke="#1e1e1e" stroke-width="0.15" >NP (+)</text>
<text x="455.8" y="277.8" font-size="8" text-anchor="middle" fill="#1e1e1e" stroke="#1e1e1e" stroke-width="0.15" >NP (-)</text>
<text x="495.1" y="277.8" font-size="8" text-anchor="middle" fill="#1e1e1e" stroke="#1e1e1e" stroke-width="0.15" >NP (+)</text>
<line x1="357.7" y1="283.7" x2="428.8" y2="283.7" stroke="#777" stroke-width="1.3"/>
<line x1="443.2" y1="283" x2="512.2" y2="283" stroke="#777" stroke-width="1.3"/>
<text x="390.3" y="292.4" font-size="7.8" text-anchor="middle" fill="#1e1e1e" stroke="#1e1e1e" stroke-width="0.15" >16 wks</text>
<text x="475.4" y="293" font-size="7.8" text-anchor="middle" fill="#1e1e1e" stroke="#1e1e1e" stroke-width="0.15" >100 wks</text>
<rect x="438.3" y="152.3" width="16.5" height="6.2" fill="#d6d6d6" stroke="#555" stroke-width="0.9"/>
<rect x="438.3" y="165.1" width="16.5" height="5.9" fill="#666666" stroke="#444" stroke-width="0.9"/>
<text x="458.4" y="158.9" font-size="8.2" font-style="italic" fill="#1e1e1e" stroke="#1e1e1e" stroke-width="0.12"><tspan textLength="38.9" lengthAdjust="spacingAndGlyphs">LckCre p16</tspan><tspan font-size="5.6" dx="0.6" dy="-2.1">+/+</tspan></text>
<text x="458.4" y="171.3" font-size="8.2" font-style="italic" fill="#1e1e1e" stroke="#1e1e1e" stroke-width="0.12"><tspan textLength="38.9" lengthAdjust="spacingAndGlyphs">LckCre p16</tspan><tspan font-size="5.6" dx="0.6" dy="-2.1">L/L</tspan></text>
<text x="296.3" y="317" font-size="14.8" text-anchor="start" fill="#111" font-weight="bold">D</text>
<line x1="361.5" y1="316.3" x2="361.5" y2="370.7" stroke="#555" stroke-width="1"/>
<line x1="361.3" y1="370.5" x2="441.7" y2="370.5" stroke="#444" stroke-width="1"/>
<line x1="360.1" y1="370.5" x2="361.3" y2="370.5" stroke="#555" stroke-width="1"/>
<text x="358.6" y="374.7" font-size="7.6" text-anchor="end" fill="#1e1e1e" stroke="#1e1e1e" stroke-width="0.15" >0</text>
<line x1="360.1" y1="352.5" x2="361.3" y2="352.5" stroke="#555" stroke-width="1"/>
<text x="358.6" y="356.57" font-size="7.6" text-anchor="end" fill="#1e1e1e" stroke="#1e1e1e" stroke-width="0.15" >10</text>
<line x1="360.1" y1="334.5" x2="361.3" y2="334.5" stroke="#555" stroke-width="1"/>
<text x="358.6" y="338.43" font-size="7.6" text-anchor="end" fill="#1e1e1e" stroke="#1e1e1e" stroke-width="0.15" >20</text>
<line x1="360.1" y1="316.5" x2="361.3" y2="316.5" stroke="#555" stroke-width="1"/>
<text x="358.6" y="320.3" font-size="7.6" text-anchor="end" fill="#1e1e1e" stroke="#1e1e1e" stroke-width="0.15" >30</text>
<text x="340" y="342.5" font-size="9.4" text-anchor="middle" fill="#1e1e1e" stroke="#1e1e1e" stroke-width="0.15"  transform="rotate(-90 340 342.5)">% Brdu+</text>
<rect x="368.5" y="356.5" width="14" height="14" fill="#d6d6d6" stroke="#6a6a6a" stroke-width="1"/>
<rect x="382.5" y="350.5" width="13" height="20" fill="#666666" stroke="#383838" stroke-width="1"/>
<line x1="375.5" y1="356.3" x2="375.5" y2="354.5" stroke="#333" stroke-width="0.85"/>
<line x1="372.35" y1="354.5" x2="378.95" y2="354.5" stroke="#2a2a2a" stroke-width="0.9"/>
<line x1="389.5" y1="350.2" x2="389.5" y2="347.3" stroke="#333" stroke-width="0.85"/>
<line x1="385.85" y1="347.5" x2="392.45" y2="347.5" stroke="#2a2a2a" stroke-width="0.9"/>
<rect x="408.5" y="346.5" width="14" height="24" fill="#d6d6d6" stroke="#6a6a6a" stroke-width="1"/>
<rect x="422.5" y="334.5" width="14" height="36" fill="#666666" stroke="#383838" stroke-width="1"/>
<line x1="415.5" y1="346" x2="415.5" y2="344.6" stroke="#333" stroke-width="0.85"/>
<line x1="412.4" y1="344.5" x2="419" y2="344.5" stroke="#2a2a2a" stroke-width="0.9"/>
<line x1="429.5" y1="334.5" x2="429.5" y2="332" stroke="#333" stroke-width="0.85"/>
<line x1="426.05" y1="332.5" x2="432.65" y2="332.5" stroke="#2a2a2a" stroke-width="0.9"/>
<line x1="374.8" y1="338.5" x2="388.8" y2="338.5" stroke="#222" stroke-width="0.9"/>
<text x="382.3" y="337.9" font-size="7.3" text-anchor="middle" fill="#111" stroke="#111" stroke-width="0.15" >n.s.</text>
<line x1="415.8" y1="324.5" x2="429.9" y2="324.5" stroke="#333" stroke-width="0.9"/>
<text x="423.4" y="324.9" font-size="7.5" text-anchor="middle" fill="#111" stroke="#111" stroke-width="0.15" >**</text>
<text x="381" y="380.9" font-size="8" text-anchor="middle" fill="#1e1e1e" stroke="#1e1e1e" stroke-width="0.15" >NP (-)</text>
<text x="422.8" y="380.9" font-size="8" text-anchor="middle" fill="#1e1e1e" stroke="#1e1e1e" stroke-width="0.15" >NP(+)</text>
<line x1="369" y1="386.3" x2="440" y2="386.3" stroke="#777" stroke-width="1.3"/>
<text x="402.9" y="394.1" font-size="7.6" text-anchor="middle" fill="#1e1e1e" stroke="#1e1e1e" stroke-width="0.15" >100 wks</text>
<rect x="448.7" y="332.9" width="16.9" height="6.1" fill="#d6d6d6" stroke="#555" stroke-width="0.9"/>
<rect x="448.7" y="345.8" width="16.9" height="5.9" fill="#666666" stroke="#444" stroke-width="0.9"/>
<text x="468.3" y="339.6" font-size="8.2" font-style="italic" fill="#1e1e1e" stroke="#1e1e1e" stroke-width="0.12"><tspan textLength="38.9" lengthAdjust="spacingAndGlyphs">LckCre p16</tspan><tspan font-size="5.6" dx="0.6" dy="-2.1">+/+</tspan></text>
<text x="468.3" y="352" font-size="8.2" font-style="italic" fill="#1e1e1e" stroke="#1e1e1e" stroke-width="0.12"><tspan textLength="38.9" lengthAdjust="spacingAndGlyphs">LckCre p16</tspan><tspan font-size="5.6" dx="0.6" dy="-2.1">L/L</tspan></text>
</svg>
</body></html>
